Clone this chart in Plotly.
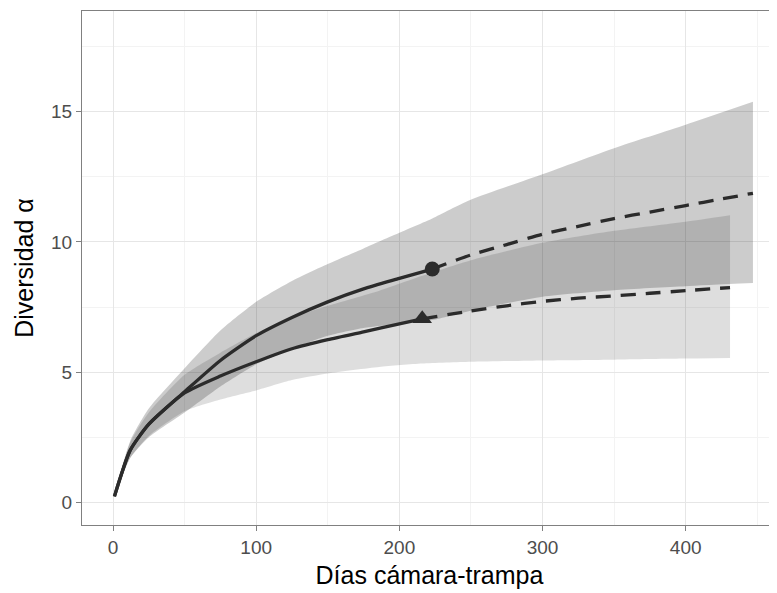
import plotly.graph_objects as go

# ---- data ----
# Curve A (circle): observed (rarefaction) and extrapolated
days_obs_a = [1, 12, 25, 50, 75, 100, 125, 150, 175, 200, 223]
div_obs_a = [0.23, 2.0, 3.0, 4.25, 5.45, 6.4, 7.1, 7.7, 8.2, 8.6, 8.96]
days_ext_a = [223, 250, 275, 300, 325, 350, 375, 400, 425, 447]
div_ext_a = [8.96, 9.5, 9.9, 10.3, 10.6, 10.9, 11.15, 11.4, 11.65, 11.87]

# Curve B (triangle)
days_obs_b = [1, 12, 25, 50, 75, 100, 125, 150, 175, 200, 216]
div_obs_b = [0.23, 2.0, 3.0, 4.2, 4.85, 5.4, 5.9, 6.25, 6.55, 6.85, 7.05]
days_ext_b = [216, 250, 275, 300, 325, 350, 375, 400, 431]
div_ext_b = [7.05, 7.35, 7.55, 7.72, 7.84, 7.93, 8.03, 8.13, 8.25]

# Confidence bands
band_days_a = [1, 12, 25, 50, 75, 100, 125, 150, 175, 200, 223, 249, 300, 350, 400, 447]
band_hi_a = [0.3, 2.35, 3.6, 5.15, 6.6, 7.7, 8.5, 9.15, 9.75, 10.35, 10.9, 11.6, 12.6, 13.6, 14.5, 15.38]
band_lo_a = [0.2, 1.7, 2.5, 3.45, 4.45, 5.3, 5.9, 6.4, 6.7, 6.85, 7.0, 7.35, 7.9, 8.15, 8.3, 8.42]

band_days_b = [1, 12, 25, 50, 75, 100, 125, 150, 186, 216, 250, 300, 350, 400, 431]
band_hi_b = [0.3, 2.3, 3.45, 4.9, 5.75, 6.5, 7.1, 7.55, 8.13, 8.7, 9.3, 9.97, 10.43, 10.78, 11.03]
band_lo_b = [0.2, 1.7, 2.55, 3.5, 3.95, 4.3, 4.7, 4.95, 5.2, 5.33, 5.4, 5.45, 5.48, 5.52, 5.54]

x_ticks = [0, 100, 200, 300, 400]
y_ticks = [0, 5, 10, 15]

FONT = "Liberation Sans, Arial, sans-serif"
LINE = "#2b2b2b"

fig = go.Figure()

for bd, lo, hi, col in [(band_days_a, band_lo_a, band_hi_a, "rgba(0,0,0,0.2)"),
                        (band_days_b, band_lo_b, band_hi_b, "rgba(0,0,0,0.13)")]:
    fig.add_trace(go.Scatter(x=bd, y=lo, mode="lines",
                             line=dict(width=0, shape="spline", smoothing=0.6),
                             hoverinfo="skip", showlegend=False))
    fig.add_trace(go.Scatter(x=bd, y=hi, mode="lines", fill="tonexty", fillcolor=col,
                             line=dict(width=0, shape="spline", smoothing=0.6),
                             hoverinfo="skip", showlegend=False))

for xs, ys, dash in [(days_obs_a, div_obs_a, "solid"), (days_ext_a, div_ext_a, "15px,10px"),
                     (days_obs_b, div_obs_b, "solid"), (days_ext_b, div_ext_b, "15px,10px")]:
    fig.add_trace(go.Scatter(x=xs, y=ys, mode="lines",
                             line=dict(color=LINE, width=3.3, dash=dash, shape="spline", smoothing=0.6),
                             showlegend=False))

fig.add_trace(go.Scatter(x=[days_obs_a[-1]], y=[div_obs_a[-1]], mode="markers",
                         marker=dict(symbol="circle", size=15, color=LINE), showlegend=False))
fig.add_trace(go.Scatter(x=[days_obs_b[-1]], y=[div_obs_b[-1]], mode="markers",
                         marker=dict(symbol="triangle-up", size=17, color=LINE), showlegend=False))

axis_common = dict(
    showgrid=True, gridcolor="#e6e6e6", gridwidth=1, automargin=False,
    zeroline=False, ticks="outside", ticklen=5, tickcolor="#808080", tickwidth=1.2,
    showline=True, linecolor="#808080", linewidth=1.3,
    tickfont=dict(family=FONT, size=19, color="#4d4d4d"),
)

# the page body has an 8px margin, so the figure is sized to end at the window edge
fig.update_layout(
    width=769, height=585,
    margin=dict(l=74, r=0, t=3, b=68),
    plot_bgcolor="white", paper_bgcolor="white",
    font=dict(family=FONT),
    xaxis=dict(range=[-21.66, 463.8], tickvals=x_ticks, ticktext=[str(v) for v in x_ticks],
               mirror=True,
               minor=dict(dtick=50, tick0=0, showgrid=True, gridcolor="#f3f3f3", gridwidth=0.8, ticks=""),
               title=dict(text="Días cámara-trampa", font=dict(family=FONT, size=25, color="black"),
                          standoff=9),
               **axis_common),
    yaxis=dict(range=[-0.87, 18.87], tickvals=y_ticks, ticktext=[str(v) for v in y_ticks],
               minor=dict(dtick=2.5, tick0=0, showgrid=True, gridcolor="#f3f3f3", gridwidth=0.8, ticks=""),
               title=dict(text="Diversidad α", font=dict(family=FONT, size=25, color="black"),
                          standoff=10),
               **axis_common),
)

fig.write_html("out.html")
